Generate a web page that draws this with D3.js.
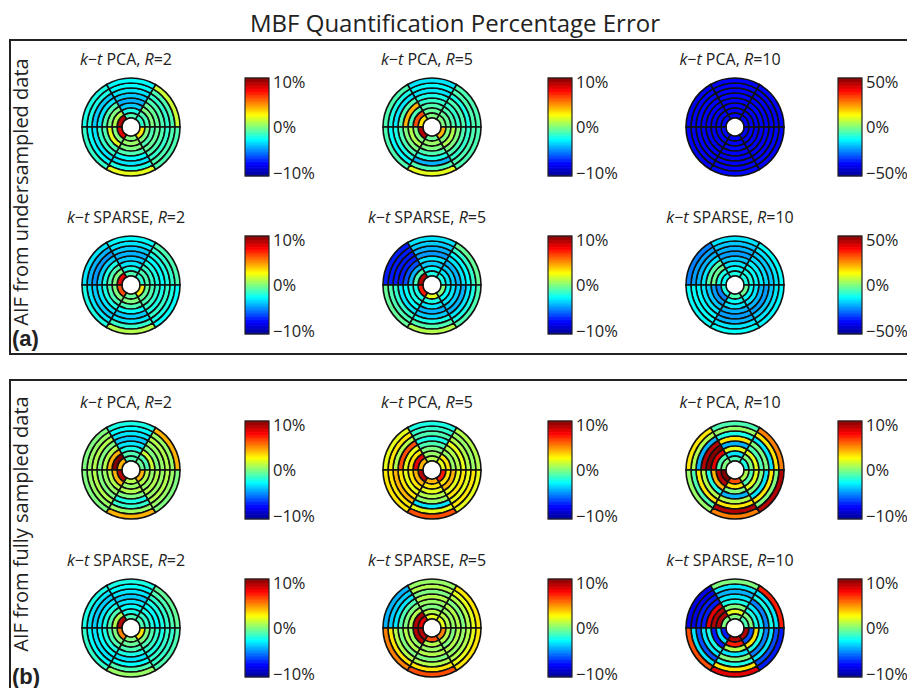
<!DOCTYPE html>
<html>
<head>
<meta charset="utf-8">
<script src="https://cdn.jsdelivr.net/npm/d3@7"></script>
<style>
  body { margin: 0; background: #fff; }
  text { font-family: "Open Sans", sans-serif; fill: #222; }
</style>
</head>
<body>
<svg id="chart" width="907" height="688"></svg>
<script>
// each plot: 6 sectors (counter-clockwise from 3 o'clock), 8 rings listed inner -> outer, % error
var underPcaR2 = [
  [-1.5, -1, 0, -0.5, -1, -1.5, -1, 1.5],
  [-1, -2, -3.5, -4, -3.5, -3, -2.5, -2.5],
  [9, 1, 0, -1, -3, -3.5, -2, -2],
  [8, 0, 2, -1, -1.5, -3, -2.5, -1.5],
  [0, 0.5, 0, -1, -2.5, -3, -2, 2],
  [3, 0, -1, -0.5, -1, -1.5, -1, -1]
];
var underPcaR5 = [
  [0, -0.5, -1, -1.5, -1, -2, -1, -1],
  [0, -0.5, -1, -1.5, -2, -3, -2.5, -3],
  [3, 6, -1, 4, -1, -3, -2, -1],
  [9, 0, 1, 0, -1, -2, -2.5, -1],
  [-0.5, 0.5, 0, -1, -2, -4, -1, 2],
  [4, 0, 1, 0, -1, -1.5, -1, -1]
];
var underPcaR10 = [
  [-39, -38, -38, -37, -38, -38, -39, -38],
  [-38, -39, -38, -38, -37, -38, -38, -38],
  [-38, -38, -39, -38, -38, -37, -38, -39],
  [-37, -38, -38, -39, -38, -38, -38, -38],
  [-38, -38, -37, -38, -39, -38, -38, -37],
  [-39, -38, -38, -38, -38, -39, -37, -38]
];
var underSparseR2 = [
  [-1.5, -1, -1.5, -2, -2.5, -2, -1.5, -1],
  [-1, -2, -3, -3.5, -4, -3.5, -3, -2.5],
  [8, 0, -1, -2, -3.5, -4.5, -4, -3],
  [6, 0, -1, -2, -3, -3.5, -3, -2],
  [-0.5, 0, -1, -2.5, -3.5, -3, -1.5, 1],
  [3, -0.5, -1, -1.5, -2, -1.5, -2, -2.5]
];
var underSparseR5 = [
  [-2, -3, -3.5, -4, -3, -2.5, -1.5, -0.5],
  [-2, -2.5, -3.5, -3, -4.5, -4, -3.5, -3],
  [9, -1, -4, -6, -7, -7, -7, -7],
  [7, -2, -2, -2.5, -3, -1.5, -1, -0.5],
  [2, -2, -3, -4, -3.5, -2, -1, 1],
  [0, -2.5, -3, -3.5, -4, -3, -2, -1]
];
var underSparseR10 = [
  [-10, -10, -12, -14, -16, -18, -15, -12],
  [-10, -12, -15, -18, -22, -20, -18, -15],
  [-12, -10, -2, -4, -15, -20, -22, -25],
  [-10, -25, -22, -18, -15, -13, -12, -12],
  [-5, -12, -15, -20, -22, -20, -15, -12],
  [-2, -12, -15, -20, -22, -18, -15, -13]
];
var fullPcaR2 = [
  [-0.5, -1, 1.5, 0, 0.5, 1, 0.5, 4],
  [-1, -1, -2, -3, -3.5, -3, -2.5, -2],
  [4, 10, 4, 1, 0, 1, 0.5, 0],
  [9, 4, 1, 0.5, 0, 1, 0.5, 0],
  [1, 0.5, 1, 0, -2, -1.5, 0.5, 4],
  [4, 1, 0.5, 1, 0.5, 1, 0.5, 0]
];
var fullPcaR5 = [
  [2, 3, 0.5, 1, 2, 1, 0.5, 1],
  [1, 0.5, 0, -1, -2, -1, -1.5, -2],
  [4, 8, 3, 2, 6, 1, 3, 2],
  [9, 4, 3, 2, 3, 4, 3, 3],
  [4, 3, 2, 1, 0.5, -3, 2, 6],
  [7, 3, 4, 2, 3, 2, 3, 2]
];
var fullPcaR10 = [
  [-2, 0, 2, -1, 0, -3, 3, 5],
  [-1, -3, 2, -4, 3, -2, 0.5, -1],
  [0, -1, 8, 10, 9, -4, 1, 3],
  [10, 9, 4, -2, 1, 3, -1, 0.5],
  [6, 3, 0, -4, 1, 3, 9, 5],
  [1, -1, 2, 0, -3, 3, 0, 9]
];
var fullSparseR2 = [
  [-1, -1.5, -2, -2.5, -2, -1.5, -1, -0.5],
  [-1, -2, -2.5, -3, -3.5, -3, -2.5, -2],
  [9, 1, -1, -2, -3, -3.5, -3, -2],
  [5, 0, -1, -2, -2.5, -3, -2.5, -1.5],
  [0, -0.5, -1, -2, -3, -2.5, -1, 0.5],
  [3, 0, -1, -1.5, -2, -1.5, -1.5, -1]
];
var fullSparseR5 = [
  [2, 1, 0.5, 1, 0, 1, 2, 3],
  [2, 1, 0, 0.5, 1, 0, 1, 0.5],
  [8, 9, 1, 0, -1, -3, -3.5, -4],
  [9, 9, 0.5, 1, 0, 1, 3, 5],
  [6, 1, 0.5, 1, 0, 1, 3, 6],
  [5, 1, 0, 1, 0.5, 1, 2, 3]
];
var fullSparseR10 = [
  [-1, 0, -2, -3, -5, -2, -3, 7],
  [0, 2, 0, -2, -3, -4, -3, 0],
  [0, 9, 9, 8, -7, -7, -8, -8],
  [-7, -3, -7, -2, -3, -6, -3, 6],
  [9, 7, 1, -3, 0, -2, 3, 8],
  [9, -6, 3, -2, -5, -3, -6, -7]
];

var methods = ["PCA", "SPARSE"];
var rates = [2, 5, 10];
var panelNames = ["AIF from undersampled data", "AIF from fully sampled data"];
var panelTags = ["(a)", "(b)"];
// colour limits (±%) per row, per column
var limits = [[10, 10, 50], [10, 10, 50], [10, 10, 10], [10, 10, 10]];
var plots = [
  [underPcaR2, underPcaR5, underPcaR10],
  [underSparseR2, underSparseR5, underSparseR10],
  [fullPcaR2, fullPcaR5, fullPcaR10],
  [fullSparseR2, fullSparseR5, fullSparseR10]
];

var svg = d3.select("#chart");

// layout
var colX = [131, 432, 735];
var barX = [245, 548, 838];
var rowY = [127, 285, 470, 628];
var outerR = 49, innerR = 9, nRings = 8;
var barW = 24, barH = 98;

// jet colormap
function jet(lim) {
  return d3.scaleLinear()
    .domain([-1, -0.75, -0.25, 0.25, 0.75, 1].map(function(v) { return v * lim; }))
    .range(["#000090", "#0000ff", "#00ffff", "#ffff00", "#ff0000", "#800000"])
    .clamp(true);
}

svg.append("text")
  .attr("x", 455).attr("y", 32)
  .attr("text-anchor", "middle")
  .style("font-size", "24px")
  .text("MBF Quantification Percentage Error");

// panel frames
var frames = [[40, 354], [380, 700]];
frames.forEach(function(f, i) {
  svg.append("rect")
    .attr("x", 10).attr("y", f[0])
    .attr("width", 920).attr("height", f[1] - f[0])
    .attr("fill", "none").attr("stroke", "#222").attr("stroke-width", 2);
  svg.append("text")
    .attr("transform", "translate(28," + (i ? 524 : 192) + ") rotate(-90)")
    .attr("text-anchor", "middle")
    .style("font-size", "20px")
    .text(panelNames[i]);
  svg.append("text")
    .attr("x", 12).attr("y", i ? 684 : 346)
    .style("font-size", "22px").style("font-weight", "bold")
    .style("font-family", "Arial, 'Liberation Sans', sans-serif")
    .text(panelTags[i]);
});

var r = d3.scaleLinear().domain([0, nRings]).range([innerR, outerR]);
var arc = d3.arc();

plots.forEach(function(row, ri) {
  row.forEach(function(data, ci) {
    var lim = limits[ri][ci];
    var color = jet(lim);
    var g = svg.append("g")
      .attr("transform", "translate(" + colX[ci] + "," + rowY[ri] + ")");

    var cells = [];
    data.forEach(function(rings, s) {
      rings.forEach(function(v, k) {
        // sector s spans s*60 .. (s+1)*60 degrees counter-clockwise from east
        cells.push({
          innerRadius: r(k), outerRadius: r(k + 1),
          startAngle: Math.PI / 2 - (s + 1) * Math.PI / 3,
          endAngle: Math.PI / 2 - s * Math.PI / 3,
          value: v
        });
      });
    });

    g.selectAll("path")
      .data(cells)
      .enter().append("path")
      .attr("d", arc)
      .attr("fill", function(d) { return color(d.value); })
      .attr("stroke", "#111")
      .attr("stroke-width", 1.6);

    // subplot title
    var t = g.append("text")
      .attr("x", -5).attr("y", -62)
      .attr("text-anchor", "middle")
      .style("font-size", "16px");
    t.append("tspan").style("font-style", "italic").text("k");
    t.append("tspan").text("\u2212");
    t.append("tspan").style("font-style", "italic").text("t");
    t.append("tspan").text(" " + methods[ri % 2] + ", ");
    t.append("tspan").style("font-style", "italic").text("R");
    t.append("tspan").text("=" + rates[ci]);

    // colour bar
    var top = rowY[ri] - outerR;
    var y = d3.scaleLinear().domain([-lim, lim]).range([top + barH, top]);
    var steps = d3.range(-lim, lim, lim / 64);
    var cb = svg.append("g").attr("transform", "translate(" + barX[ci] + ",0)");
    cb.selectAll("rect")
      .data(steps)
      .enter().append("rect")
      .attr("x", 0).attr("width", barW)
      .attr("y", function(d) { return y(d + lim / 64) - 0.3; })
      .attr("height", function(d) { return y(d) - y(d + lim / 64) + 0.6; })
      .attr("fill", function(d) { return color(d + lim / 128); });
    cb.append("rect")
      .attr("x", 0).attr("y", top).attr("width", barW).attr("height", barH)
      .attr("fill", "none").attr("stroke", "#222").attr("stroke-width", 1.2);
    var ax = cb.append("g")
      .attr("transform", "translate(" + barW + ",0)")
      .call(d3.axisRight(y).tickValues([-lim, 0, lim]).tickSize(0).tickPadding(4)
        .tickFormat(function(d) { return (d < 0 ? "\u2212" : "") + Math.abs(d) + "%"; }));
    ax.select(".domain").remove();
    ax.selectAll("text")
      .style("font-size", "16.5px")
      .style("font-family", "'Open Sans', sans-serif")
      .attr("fill", "#222")
      .attr("dy", function(d) { return d > 0 ? "0.6em" : (d < 0 ? "0.15em" : "0.32em"); });
  });
});
</script>
</body>
</html>
